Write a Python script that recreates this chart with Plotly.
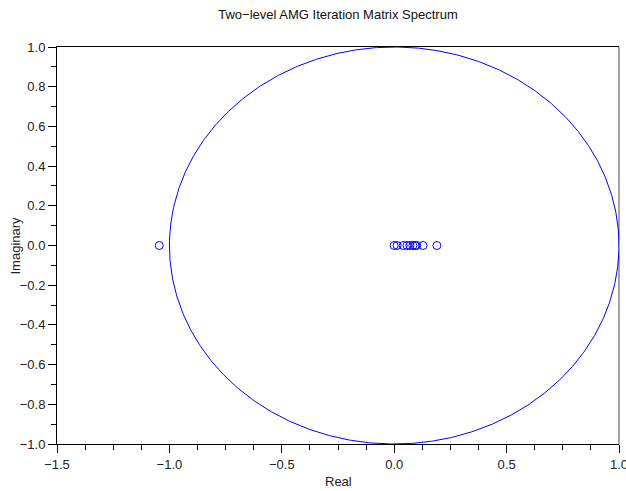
import numpy as np
import plotly.graph_objects as go

# Eigenvalues (real, imaginary parts)
eig_real = [-1.045, 0.0, 0.013, 0.04, 0.057, 0.07, 0.083, 0.093, 0.10, 0.128, 0.19]
eig_imag = [0.0, 0.0, 0.0, 0.0, 0.0, 0.0, 0.0, 0.0, 0.0, 0.0, 0.0]

x_tickvals = [-1.5, -1.0, -0.5, 0.0, 0.5, 1.0]
x_ticktext = ["\u22121.5", "\u22121.0", "\u22120.5", "0.0", "0.5", "1.0"]
y_tickvals = [1.0, 0.8, 0.6, 0.4, 0.2, 0.0, -0.2, -0.4, -0.6, -0.8, -1.0]
y_ticktext = ["1.0", "0.8", "0.6", "0.4", "0.2", "0.0", "\u22120.2", "\u22120.4",
              "\u22120.6", "\u22120.8", "\u22121.0"]

# unit circle reference
theta = np.linspace(0, 2 * np.pi, 721)
circ_x = np.cos(theta)
circ_y = np.sin(theta)

fig = go.Figure()
fig.add_trace(go.Scatter(x=circ_x, y=circ_y, mode="lines",
                         line=dict(color="#0000ff", width=1), hoverinfo="skip"))
fig.add_trace(go.Scatter(x=eig_real, y=eig_imag, mode="markers",
                         marker=dict(symbol="circle-open", size=8,
                                     color="#0000ff", line=dict(width=1))))

font = "Liberation Sans, Arial, sans-serif"
fig.update_layout(
    width=626, height=491,
    margin=dict(l=57, r=7, t=47, b=47, autoexpand=False),
    paper_bgcolor="white", plot_bgcolor="white",
    showlegend=False,
    font=dict(family=font, size=13, color="#222222"),
    title=dict(text="Two\u2212level AMG Iteration Matrix Spectrum",
               x=0.5, xref="paper", y=1 - 14 / 491, yanchor="middle",
               font=dict(family=font, size=13, color="#111111")),
    xaxis=dict(range=[-1.5, 1.0], tickvals=x_tickvals, ticktext=x_ticktext,
               automargin=False, ticklabeloverflow="allow",
               showgrid=False, zeroline=False, showline=True, linecolor="black",
               linewidth=1, mirror=True, ticks="outside", ticklen=8, tickcolor="black",
               minor=dict(dtick=0.125, tick0=0, ticks="outside", ticklen=5,
                          tickcolor="black", showgrid=False)),
    yaxis=dict(range=[-1.0, 1.0], tickvals=y_tickvals, ticktext=y_ticktext,
               automargin=False, ticklabeloverflow="allow",
               showgrid=False, zeroline=False, showline=True, linecolor="black",
               linewidth=1, ticks="outside", ticklen=8, tickcolor="black",
               ticklabelstandoff=0,
               minor=dict(dtick=0.1, tick0=0, ticks="outside", ticklen=5,
                          tickcolor="black", showgrid=False)),
)
fig.add_annotation(text="Real", xref="paper", yref="paper", x=0.5, y=-(481 - 444) / 397,
                   xanchor="center", yanchor="middle", showarrow=False,
                   font=dict(family=font, size=13, color="#222222"))
fig.add_annotation(text="Imaginary", xref="paper", yref="paper", x=(15 - 57) / 562, y=0.5,
                   xanchor="center", yanchor="middle", showarrow=False, textangle=-90,
                   font=dict(family=font, size=13, color="#222222"))
fig.add_shape(type="line", xref="paper", yref="paper", x0=1, x1=1, y0=0, y1=1,
              line=dict(color="#888888", width=1.5), layer="below")

fig.write_html("out.html")
